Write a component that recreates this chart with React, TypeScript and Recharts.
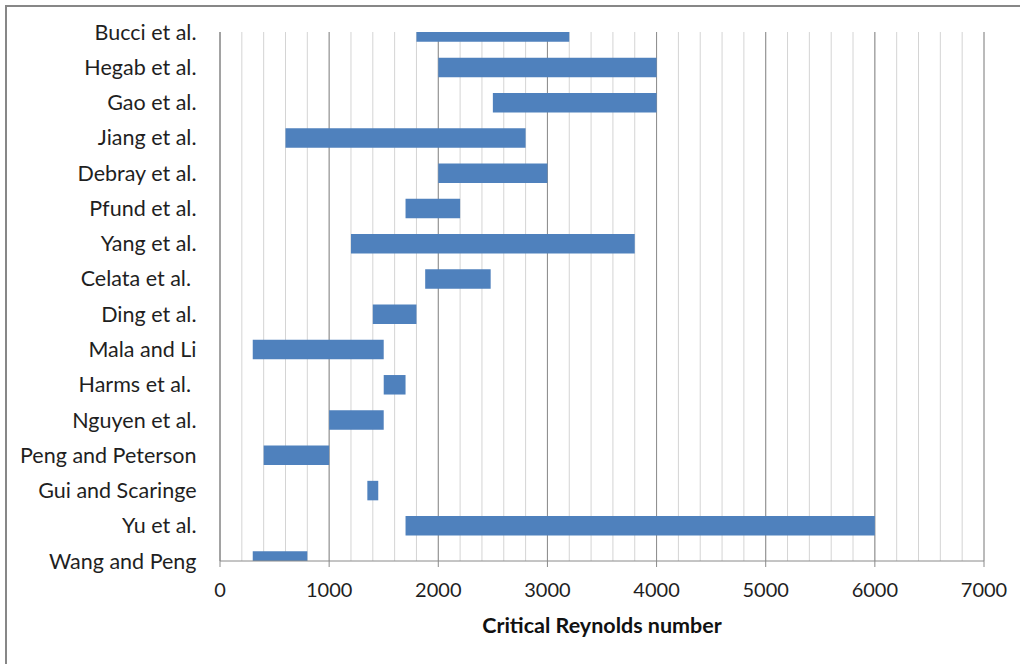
import React from 'react';
import { BarChart, Bar, XAxis, YAxis, CartesianGrid } from 'recharts';

const studies = [
  'Bucci et al.',
  'Hegab et al.',
  'Gao et al.',
  'Jiang et al.',
  'Debray et al.',
  'Pfund et al.',
  'Yang et al.',
  'Celata et al.\u00a0',
  'Ding et al.',
  'Mala and Li',
  'Harms et al.\u00a0',
  'Nguyen et al.',
  'Peng and Peterson',
  'Gui and Scaringe',
  'Yu et al.',
  'Wang and Peng',
];
const reStart = [1800, 2000, 2500, 600, 2000, 1700, 1200, 1880, 1400, 300, 1500, 1000, 400, 1350, 1700, 300];
const reEnd = [3200, 4000, 4000, 2800, 3000, 2200, 3800, 2480, 1800, 1500, 1700, 1500, 1000, 1450, 6000, 800];
const majorTicks = [0, 1000, 2000, 3000, 4000, 5000, 6000, 7000];
const minorTicks = [
  0, 200, 400, 600, 800, 1000, 1200, 1400, 1600, 1800, 2000, 2200, 2400, 2600, 2800, 3000, 3200, 3400,
  3600, 3800, 4000, 4200, 4400, 4600, 4800, 5000, 5200, 5400, 5600, 5800, 6000, 6200, 6400, 6600, 6800, 7000,
];

const last = studies.length - 1;
const rows = studies.map((name, i) => ({
  name,
  pos: i,
  range: [reStart[i], reEnd[i]],
}));
const posTicks = rows.map((r) => r.pos);

const FONT = 'Lato';
const xTickStyle = { fontSize: 20, fill: '#1f1f1f', fontFamily: FONT };
const yTickStyle = { fontSize: 21.5, fill: '#1f1f1f', fontFamily: FONT };

export default function App() {
  return (
    <div style={{ position: 'fixed', left: 0, top: 0, width: 1020, height: 664, background: '#fff' }}>
      <div
        style={{
          position: 'absolute',
          left: 5,
          top: 5,
          right: 0,
          bottom: 0,
          borderTop: '2px solid #878787',
          borderLeft: '2px solid #878787',
        }}
      />
      <BarChart
        width={1020}
        height={664}
        data={rows}
        layout="vertical"
        margin={{ top: 32, right: 36, bottom: 23, left: 0 }}
        style={{ position: 'absolute', left: 0, top: 0 }}
      >
        <XAxis
          xAxisId="minor"
          type="number"
          domain={[0, 7000]}
          ticks={minorTicks}
          interval={0}
          allowDataOverflow
          hide
        />
        <CartesianGrid xAxisId="minor" horizontal={false} stroke="#d4d4d4" />
        <CartesianGrid horizontal={false} stroke="#8c8c8c" />
        <XAxis
          type="number"
          domain={[0, 7000]}
          ticks={majorTicks}
          interval={0}
          allowDataOverflow
          height={80}
          stroke="#8a8a8a"
          tickSize={6}
          tickMargin={16}
          tick={xTickStyle}
          label={{
            value: 'Critical Reynolds number',
            position: 'insideBottom',
            offset: 7.7,
            fill: '#111',
            fontSize: 21.5,
            fontWeight: 700,
            fontFamily: FONT,
          }}
        />
        <YAxis
          type="number"
          dataKey="pos"
          domain={[0, last]}
          ticks={posTicks}
          interval={0}
          allowDataOverflow
          width={220}
          stroke="#8a8a8a"
          tickLine={false}
          tickSize={0}
          tickMargin={23.5}
          tick={yTickStyle}
          tickFormatter={(v: number) => studies[v]}
        />
        <Bar dataKey="range" fill="#4F81BD" barSize={19.5} isAnimationActive={false} />
      </BarChart>
    </div>
  );
}
